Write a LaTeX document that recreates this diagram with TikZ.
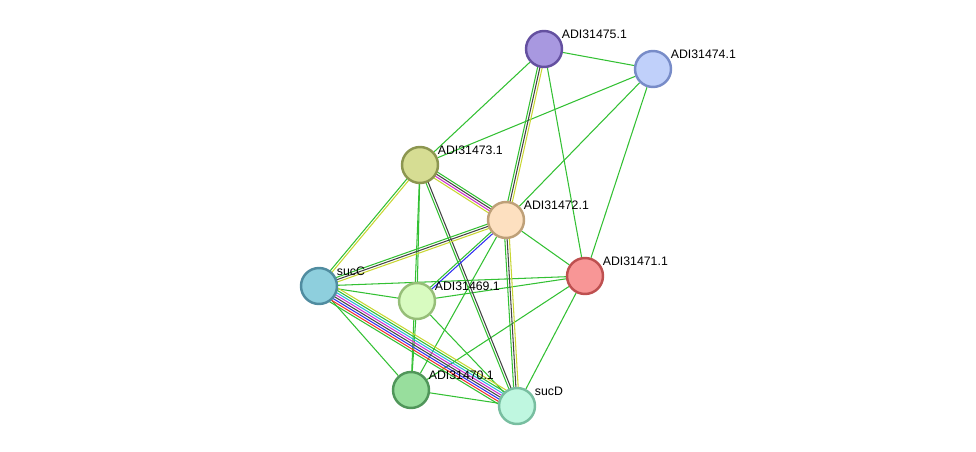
\documentclass[tikz,border=0pt]{standalone}
\usepackage{fontspec}
\setsansfont{Liberation Sans}
\usepackage{tikz}
\usetikzlibrary{calc, backgrounds}

\definecolor{eg}{HTML}{33C033}
\definecolor{ek}{HTML}{444444}
\definecolor{ey}{HTML}{C8D632}
\definecolor{eb}{HTML}{3030F0}
\definecolor{em}{HTML}{D030D0}
\definecolor{ec}{HTML}{30B0E0}
\definecolor{er}{HTML}{F03030}

% parallel edges between two nodes, one per colour
\newcommand{\bundle}[3]{%
  \foreach \c [count=\i] in {#3} {\xdef\nb{\i}}%
  \foreach \c [count=\i] in {#3} {%
    \pgfmathsetmacro{\off}{(\i-(\nb+1)/2)*1.3}%
    \draw[edge, \c] ($(#1.center)!\off pt!90:(#2.center)$) -- ($(#2.center)!\off pt!-90:(#1.center)$);
  }%
}

\begin{document}
\begin{tikzpicture}[
  x=0.02cm, y=-0.02cm,
  prot/.style = {circle, line width=1.4pt, minimum size=0.72cm, inner sep=0pt},
  lbl/.style = {font=\sffamily\fontsize{7}{8}\selectfont, anchor=south west, inner sep=0.5pt, label distance=0pt},
  edge/.style = {line width=0.6pt}
]
  \useasboundingbox (0,0) rectangle (976,452);

  % proteins
  \node[prot, fill={rgb,255:red,168;green,152;blue,224}, draw={rgb,255:red,100;green,80;blue,160}, label={[lbl]30:ADI31475.1}] (p475) at (544,49) {};
  \node[prot, fill={rgb,255:red,192;green,208;blue,250}, draw={rgb,255:red,120;green,140;blue,200}, label={[lbl]30:ADI31474.1}] (p474) at (653,69) {};
  \node[prot, fill={rgb,255:red,214;green,221;blue,147}, draw={rgb,255:red,140;green,150;blue,80}, label={[lbl]30:ADI31473.1}] (p473) at (420,165) {};
  \node[prot, fill={rgb,255:red,253;green,224;blue,192}, draw={rgb,255:red,190;green,160;blue,120}, label={[lbl]30:ADI31472.1}] (p472) at (506,220) {};
  \node[prot, fill={rgb,255:red,248;green,150;blue,150}, draw={rgb,255:red,190;green,80;blue,80}, label={[lbl]30:ADI31471.1}] (p471) at (585,276) {};
  \node[prot, fill={rgb,255:red,142;green,207;blue,221}, draw={rgb,255:red,80;green,140;blue,160}, label={[lbl]30:sucC}] (sucC) at (319,286) {};
  \node[prot, fill={rgb,255:red,216;green,251;blue,192}, draw={rgb,255:red,150;green,190;blue,120}, label={[lbl]30:ADI31469.1}] (p469) at (417,301) {};
  \node[prot, fill={rgb,255:red,152;green,222;blue,157}, draw={rgb,255:red,80;green,150;blue,90}, label={[lbl]30:ADI31470.1}] (p470) at (411,390) {};
  \node[prot, fill={rgb,255:red,191;green,247;blue,224}, draw={rgb,255:red,120;green,190;blue,160}, label={[lbl]30:sucD}] (sucD) at (517,406) {};

  % interactions
  \begin{scope}[on background layer]
    \foreach \a/\b in {p475/p474, p475/p473, p475/p471, p474/p473, p474/p472, p474/p471,
                       p473/p469, p473/p470, p472/p471, p472/p470, sucC/p469, sucC/p471,
                       sucC/p470, p469/p471, p469/p470, p469/sucD, p471/p470, p471/sucD, p470/sucD}
      \draw[edge, eg] (\a) -- (\b);
    \bundle{p475}{p472}{eg,ek,ey}
    \bundle{p473}{p472}{ey,em,ek,eg}
    \bundle{p473}{sucC}{eg,ey}
    \bundle{p473}{sucD}{eg,ek}
    \bundle{p472}{sucC}{eg,ek,ey}
    \bundle{p472}{p469}{eg,eb}
    \bundle{p472}{sucD}{eg,ek,ey}
    \bundle{sucC}{sucD}{eg,er,eb,ek,em,ec,eg,ey}
  \end{scope}
\end{tikzpicture}
\end{document}
